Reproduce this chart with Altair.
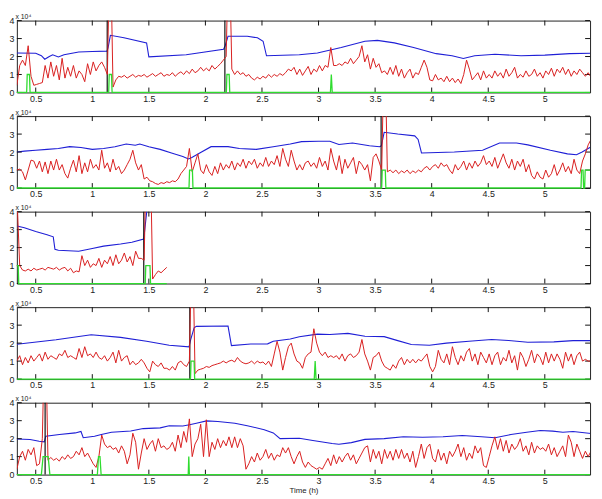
import altair as alt
import pandas as pd

# ---------------- data (values in units of 10^4) ----------------
X0 = 1 / 3          # start of the time axis (h)
X_END = 5.40        # end of the time axis (h)
STEP = 0.025        # sampling interval of the red signal (h)

XTICKS = [0.5, 1, 1.5, 2, 2.5, 3, 3.5, 4, 4.5, 5]
YTICKS = [0, 1, 2, 3, 4]

# ---- panel 1 ----
p1_red = [
    0.4, 1.5, 1.8, 1.5, 2.6, 0.9, 0.4, 0.45, 0.5, 0.55,
    1.5, 0.8, 1.7, 0.9, 1.5, 0.7, 1.9, 0.8, 1.4, 0.9,
    1.5, 0.8, 1.2, 1.0, 0.6, 1.6, 1.0, 1.7, 1.2, 1.5,
    1.7, 1.4, 1.0, 9, 0.3, 0.7, 0.9, 0.85, 0.95, 0.8,
    0.9, 1.0, 0.85, 0.95, 0.9, 1.0, 0.85, 0.95, 1.05, 0.9,
    1.0, 1.1, 0.9, 1.0, 0.95, 1.1, 0.9, 1.05, 1.15, 1.0,
    1.2, 1.05, 1.3, 1.1, 1.2, 1.4, 1.2, 1.35, 1.2, 1.5,
    1.3, 1.45, 1.6, 1.8, 2.0, 9, 1.3, 1.0, 1.2, 1.0,
    1.1, 0.9, 1.0, 0.8, 0.7, 0.85, 0.75, 0.9, 0.8, 1.0,
    0.85, 1.0, 0.9, 1.05, 0.95, 1.1, 1.3, 1.2, 1.4, 1.0,
    1.3, 0.95, 1.2, 1.45, 1.0, 1.3, 1.15, 1.5, 1.2, 1.5,
    1.4, 2.5, 1.5, 1.5, 1.6, 1.5, 1.7, 1.6, 1.9, 1.6,
    1.8, 2.0, 2.6, 1.7, 2.1, 1.3, 1.9, 1.4, 1.6, 1.1,
    1.2, 1.0, 1.4, 1.0, 1.5, 0.9, 1.3, 0.8, 1.1, 1.3,
    0.8, 1.1, 1.0, 1.4, 1.8, 1.4, 0.7, 0.65, 1.0, 0.7,
    0.8, 0.6, 0.9, 0.6, 0.8, 0.55, 0.75, 0.5, 1.0, 1.8,
    1.3, 0.7, 0.9, 1.1, 0.7, 1.2, 0.8, 1.0, 0.8, 1.2,
    0.9, 1.1, 0.8, 1.3, 0.9, 1.1, 1.4, 0.8, 1.0, 0.85,
    1.2, 0.9, 1.0, 1.3, 0.9, 1.1, 0.8, 1.2, 1.0, 1.35,
    0.9, 1.3, 1.1, 1.4, 1.0, 1.3, 0.9, 1.2, 1.0, 1.3,
    1.1, 0.9, 1.1, 0.85,
]
p1_blue_t = [0.3333, 0.5, 0.55, 0.58, 0.62, 0.65, 0.7, 0.75, 0.88, 1.0, 1.13, 1.14, 1.16,
             1.28, 1.48, 1.5, 1.83, 2.16, 2.175, 2.2, 2.37, 2.46, 2.51, 2.54, 2.83, 2.99,
             3.2, 3.41, 3.52, 3.67, 3.84, 4.04, 4.18, 4.28, 4.38, 4.56, 4.79, 5.0, 5.22, 5.41]
p1_blue_v = [2.2, 2.18, 2.05, 1.85, 2.0, 2.1, 1.98, 2.1, 2.25, 2.28, 2.3, 2.5, 3.18,
             3.04, 2.76, 1.98, 2.1, 2.4, 2.6, 3.13, 3.13, 3.04, 2.85, 2.04, 2.1, 2.2,
             2.5, 2.85, 2.9, 2.76, 2.5, 2.16, 2.04, 1.89, 2.04, 2.13, 2.04, 2.08, 2.16, 2.18]
p1_green_t = [0.3333, 0.42, 0.425, 0.445, 0.45, 1.145, 1.15, 1.17, 1.175, 2.185, 2.19, 2.21,
              2.215, 3.105, 3.113, 3.121, 5.40]
p1_green_v = [0, 0, 1, 1, 0, 0, 1, 1, 0, 0, 1, 1, 0, 0, 1, 0, 0]
p1_events = [1.132, 2.172]

# ---- panel 2 ----
p2_red = [
    1.0, 1.05, 0.9, 0.45, 1.0, 1.55, 1.5, 1.1, 1.5, 0.9,
    1.45, 0.8, 1.5, 1.0, 1.6, 1.0, 1.3, 0.8, 0.55, 1.1,
    1.55, 0.9, 1.8, 0.8, 1.4, 0.9, 1.6, 1.1, 1.3, 1.0,
    2.1, 1.1, 1.4, 0.9, 1.6, 1.0, 1.2, 0.8, 1.0, 1.3,
    1.6, 2.1, 1.4, 1.0, 1.3, 0.5, 0.6, 0.4, 0.35, 0.25,
    0.2, 0.3, 0.25, 0.35, 0.3, 0.4, 0.35, 0.5, 0.8, 1.0,
    1.2, 2.2, 0.9, 1.4, 1.9, 1.0, 0.8, 1.3, 0.9, 0.7,
    1.2, 0.8, 1.4, 1.0, 1.3, 1.1, 1.5, 1.0, 1.4, 1.2,
    1.6, 1.1, 1.5, 1.3, 1.6, 1.1, 1.4, 1.2, 1.7, 1.2,
    1.5, 1.3, 1.8, 1.2, 2.2, 1.6, 1.2, 2.1, 1.5, 1.0,
    1.3, 1.0, 1.4, 1.5, 1.2, 1.4, 1.1, 1.7, 1.2, 1.5,
    1.0, 2.2, 1.5, 1.0, 1.8, 0.8, 1.6, 1.1, 1.4, 1.7,
    0.8, 1.5, 1.3, 1.0, 1.3, 0.4, 1.7, 1.9, 1.5, 1.0,
    9, 0.9, 1.0, 0.85, 1.0, 0.8, 0.95, 0.85, 1.0, 0.8,
    0.95, 0.85, 1.0, 0.9, 1.1, 1.2, 1.0, 1.2, 1.3, 1.1,
    1.4, 1.2, 1.3, 1.0, 0.8, 1.3, 1.0, 1.2, 1.5, 1.0,
    1.4, 1.1, 1.5, 1.2, 1.4, 1.8, 1.3, 1.5, 1.2, 1.7,
    1.1, 1.5, 1.9, 1.4, 1.1, 1.6, 1.0, 1.5, 1.2, 1.6,
    0.9, 1.3, 0.7, 0.5, 0.9, 0.6, 0.5, 1.0, 0.6, 0.8,
    1.3, 0.7, 1.0, 1.4, 0.9, 1.2, 0.8, 1.6, 1.0, 0.8,
    1.5, 1.9, 2.4, 2.7,
]
p2_blue_t = [0.3333, 0.4, 0.5, 0.6, 0.7, 0.8, 0.9, 1.0, 1.1, 1.2, 1.3, 1.38, 1.42, 1.5,
             1.6, 1.7, 1.8, 1.85, 1.88, 1.95, 2.05, 2.2, 2.3, 2.45, 2.6, 2.75, 2.85, 3.0,
             3.1, 3.18, 3.3, 3.45, 3.54, 3.555, 3.58, 3.7, 3.85, 3.88, 3.91, 4.2, 4.45,
             4.6, 4.75, 4.85, 5.05, 5.2, 5.28, 5.33, 5.41]
p2_blue_v = [2.0, 2.05, 2.1, 2.15, 2.2, 2.3, 2.25, 2.15, 2.2, 2.3, 2.45, 2.38, 2.45, 2.3,
             2.15, 1.95, 1.75, 1.62, 1.7, 1.95, 2.3, 2.3, 2.2, 2.15, 2.3, 2.45, 2.58, 2.6,
             2.6, 2.42, 2.5, 2.35, 2.3, 2.35, 3.1, 3.0, 2.9, 2.7, 1.95, 2.0, 2.1,
             2.5, 2.5, 2.4, 2.1, 1.9, 1.85, 2.0, 2.3]
p2_green_t = [0.3333, 1.855, 1.86, 1.885, 1.89, 3.558, 3.563, 3.59, 3.595, 5.32, 5.325,
              5.338, 5.343, 5.352, 5.357, 5.40]
p2_green_v = [0, 0, 1, 1, 0, 0, 1, 1, 0, 0, 1, 1, 0, 0, 1, 1]
p2_events = [3.553]

# ---- panel 3 (recording stops at about 1.66 h) ----
p3_red = [
    5, 1.0, 0.75, 0.7, 0.8, 0.7, 0.85, 0.75, 0.8, 0.85,
    0.75, 0.9, 0.85, 0.8, 0.9, 0.75, 0.85, 0.9, 0.7, 0.85,
    0.6, 0.7, 0.65, 1.55, 1.0, 1.3, 0.9, 1.1, 1.0, 1.4,
    0.9, 1.3, 1.1, 1.5, 1.0, 1.6, 1.1, 1.3, 1.7, 1.2,
    1.5, 1.0, 1.8, 1.4, 1.4, 1.3, 9, 9, 0.25, 0.5,
    0.7, 0.6, 0.75, 0.9,
]
p3_blue_t = [0.3333, 0.4, 0.5, 0.6, 0.655, 0.67, 0.7, 0.88, 1.0, 1.1, 1.25, 1.35, 1.455, 1.49]
p3_blue_v = [3.2, 3.1, 2.9, 2.72, 2.6, 1.9, 1.85, 1.8, 1.95, 2.08, 2.2, 2.3, 2.48, 4.5]
p3_green_t = [0.3333, 0.345, 0.35, 1.468, 1.473, 1.51, 1.515, 1.658]
p3_green_v = [1, 1, 0, 0, 1, 1, 0, 0]
p3_events = [1.455]

# ---- panel 4 ----
p4_red = [
    1.0, 1.3, 0.8, 1.2, 0.9, 1.3, 1.0, 1.2, 1.4, 1.0,
    1.5, 1.1, 1.3, 1.2, 1.1, 1.4, 1.3, 1.6, 1.2, 1.3,
    1.2, 1.1, 1.7, 1.2, 1.8, 1.3, 1.4, 1.2, 1.5, 1.2,
    1.1, 1.3, 1.0, 1.2, 1.5, 0.9, 1.6, 1.0, 1.2, 1.3,
    0.8, 1.0, 0.8, 0.9, 1.1, 0.9, 0.6, 0.4, 1.0, 0.8,
    0.7, 0.9, 0.6, 0.6, 0.5, 0.7, 0.5, 0.9, 1.0, 0.8,
    0.7, 1.0, 9, 0.3, 0.5, 0.55, 0.6, 0.7, 0.65, 0.75,
    0.8, 0.85, 0.9, 1.0, 0.9, 1.0, 1.05, 0.95, 1.2, 1.0,
    0.9, 0.85, 0.9, 1.0, 0.85, 1.0, 0.9, 0.95, 0.8, 1.0,
    0.7, 1.4, 2.1, 1.5, 0.5, 1.2, 1.8, 2.0, 1.4, 1.0,
    0.9, 0.6, 1.2, 1.4, 1.5, 2.8, 2.0, 1.5, 1.3, 1.5,
    1.2, 1.3, 1.2, 1.3, 1.1, 1.4, 1.0, 1.3, 1.4, 1.2,
    1.3, 1.5, 2.2, 1.4, 1.0, 0.5, 1.2, 1.3, 1.5, 1.0,
    0.7, 0.6, 0.5, 0.8, 0.6, 1.0, 1.2, 0.8, 1.1, 0.9,
    1.1, 0.9, 1.1, 1.0, 1.2, 1.4, 0.7, 0.4, 0.7, 1.6,
    1.1, 0.9, 1.4, 0.8, 1.8, 1.2, 0.8, 1.3, 1.0, 1.5,
    1.7, 1.0, 1.4, 0.8, 1.5, 1.2, 0.9, 1.4, 0.8, 1.3,
    1.5, 0.8, 1.2, 1.0, 1.6, 0.9, 1.3, 0.5, 1.5, 1.2,
    0.7, 1.1, 1.6, 0.9, 1.4, 1.2, 0.8, 1.5, 0.9, 1.4,
    1.0, 1.4, 1.1, 0.6, 1.5, 1.0, 1.4, 0.8, 1.3, 1.5,
    1.0, 1.1, 1.0, 1.0,
]
p4_blue_t = [0.3333, 0.68, 0.99, 1.25, 1.48, 1.68, 1.855, 1.87, 1.9, 1.92, 2.2, 2.23, 2.4,
             2.55, 2.6, 2.75, 2.83, 2.99, 3.1, 3.26, 3.41, 3.58, 3.7, 3.82, 3.98, 4.13,
             4.33, 4.53, 4.68, 4.85, 5.08, 5.25, 5.41]
p4_blue_v = [1.94, 2.19, 2.47, 2.32, 2.1, 1.88, 1.79, 2.2, 2.85, 2.93, 2.95, 1.86, 1.95,
             1.96, 2.1, 2.23, 2.35, 2.5, 2.48, 2.54, 2.38, 2.36, 2.14, 1.92, 1.88, 2.0,
             2.1, 2.2, 2.15, 2.05, 2.07, 2.14, 2.14]
p4_green_t = [0.3333, 1.868, 1.873, 1.9, 1.905, 2.962, 2.97, 2.978, 5.40]
p4_green_v = [0, 0, 1, 1, 0, 0, 1, 0, 0]
p4_events = [1.862]

# ---- panel 5 ----
p5_red = [
    0.3, 1.0, 1.3, 0.8, 1.4, 1.1, 1.5, 0.5, 0.6, 2.0,
    9, 0.8, 0.95, 0.8, 0.9, 0.75, 1.0, 0.85, 1.1, 0.9,
    1.0, 1.3, 1.1, 1.5, 1.0, 1.2, 0.9, 0.6, 0.4, 1.0,
    2.2, 1.7, 1.5, 1.6, 1.4, 1.5, 1.2, 1.6, 1.3, 0.6,
    1.1, 2.3, 1.8, 0.3, 1.2, 2.0, 1.4, 1.7, 1.9, 1.3,
    2.0, 1.5, 1.6, 1.4, 1.5, 1.8, 1.3, 2.2, 1.5, 2.4,
    1.8, 3.1, 1.0, 1.7, 2.0, 2.8, 1.0, 3.05, 1.0, 1.8,
    1.4, 2.0, 1.5, 1.9, 1.6, 2.1, 1.5, 2.1, 1.5, 2.0,
    1.6, 0.3, 0.6, 1.0, 0.7, 1.2, 0.8, 1.0, 1.4, 0.9,
    1.2, 0.8, 1.1, 1.0, 1.5, 1.2, 1.5, 1.0, 0.6, 1.0,
    1.3, 0.7, 0.4, 0.7, 0.5, 0.4, 0.3, 0.4, 0.3, 0.6,
    0.9, 0.5, 1.1, 0.6, 1.0, 0.7, 1.0, 1.2, 0.8, 1.1,
    0.6, 0.9, 1.2, 1.5, 1.6, 0.7, 1.4, 0.9, 1.3, 0.6,
    1.4, 0.9, 1.3, 0.8, 1.4, 0.9, 1.4, 0.9, 1.2, 0.7,
    1.3, 0.4, 1.0, 1.7, 0.9, 1.5, 1.7, 0.9, 0.7, 1.4,
    0.8, 1.2, 0.6, 1.3, 1.0, 1.3, 1.7, 1.0, 1.5, 0.8,
    1.2, 0.9, 1.6, 1.2, 1.5, 0.5, 0.4, 1.0, 1.6, 2.1,
    1.4, 2.0, 1.3, 1.9, 1.2, 1.7, 1.4, 1.6, 2.0, 1.3,
    1.6, 1.1, 1.8, 1.2, 1.6, 1.4, 1.5, 1.3, 1.7, 1.1,
    1.5, 1.0, 1.3, 1.6, 1.0, 2.2, 1.8, 1.0, 1.7, 1.3,
    0.9, 1.3, 1.0, 1.3,
]
p5_blue_t = [0.3333, 0.45, 0.53, 0.575, 0.59, 0.71, 0.85, 0.9, 0.92, 1.02, 1.08, 1.17, 1.34,
             1.45, 1.6, 1.68, 1.8, 1.86, 1.92, 2.01, 2.11, 2.26, 2.37, 2.52, 2.6, 2.66,
             2.83, 2.95, 3.12, 3.18, 3.29, 3.41, 3.58, 3.75, 3.92, 4.1, 4.27, 4.44, 4.56,
             4.7, 4.84, 4.96, 5.07, 5.16, 5.25, 5.41]
p5_blue_v = [1.98, 1.95, 1.86, 1.82, 2.14, 2.23, 2.32, 2.4, 2.05, 2.13, 2.23, 2.36, 2.43,
             2.56, 2.6, 2.72, 2.7, 2.77, 2.86, 2.99, 2.95, 2.86, 2.72, 2.5, 2.32, 2.0,
             2.02, 1.9, 1.73, 1.69, 1.78, 1.96, 2.0, 2.11, 2.08, 2.11, 2.18, 2.11, 2.05,
             2.23, 2.36, 2.45, 2.42, 2.36, 2.4, 2.29]
p5_green_t = [0.3333, 0.55, 0.565, 0.61, 0.625, 1.045, 1.055, 1.068, 1.078, 1.848, 1.853,
              1.858, 5.40]
p5_green_v = [0, 0, 1, 1, 0, 0, 1, 1, 0, 0, 1, 0, 0]
p5_events = [0.583]

# ---------------- styling ----------------
W, H = 582, 73
BLUE = "#1f1fd6"
RED = "#d81e1e"
GREEN = "#2fdc2f"
DARK = "#111111"
FONT = "Liberation Sans"

xs = alt.Scale(domain=[X0, X_END], nice=False, zero=False)
ys = alt.Scale(domain=[0, 4], nice=False, zero=False)


def panel(red, bt, bv, gt, gv, events, last=False):
    red_df = pd.DataFrame({"t": [X0 + STEP * i for i in range(len(red))], "v": red})
    blue_df = pd.DataFrame({"t": bt, "v": bv})
    green_df = pd.DataFrame({"t": gt, "v": gv})
    ev_df = pd.DataFrame({"t": events})
    xt_df = pd.DataFrame({"t": XTICKS})
    yt_df = pd.DataFrame({"v": YTICKS})

    xaxis_kw = dict(values=XTICKS, format="~g", ticks=False, domain=False, grid=False,
                    labelPadding=2, labelFontSize=9, labelColor="#222",
                    labelOverlap=False, labelFlush=False)
    if last:
        xaxis_kw.update(title="Time (h)", titleFontSize=8, titleFontWeight="normal",
                        titlePadding=1, titleColor="#222")
    else:
        xaxis_kw.update(title="")
    xaxis = alt.Axis(**xaxis_kw)
    yaxis = alt.Axis(values=YTICKS, format="d", ticks=False, domain=False, grid=False,
                     labelPadding=3, labelFontSize=9, labelColor="#222",
                     labelOverlap=False, labelFlush=False, labelBound=False,
                     title="x 10⁴", titleAngle=0, titleAlign="left", titleBaseline="bottom",
                     titleX=-2, titleY=-1, titleFontSize=7, titleFontWeight="normal",
                     titleColor="#222")

    def X():
        return alt.X("t:Q", scale=xs, axis=xaxis)

    def Y():
        return alt.Y("v:Q", scale=ys, axis=yaxis)

    blue = alt.Chart(blue_df).mark_line(color=BLUE, strokeWidth=1.1, clip=True).encode(
        x=X(), y=Y())
    xticks_bot = alt.Chart(xt_df).mark_rule(color=DARK, strokeWidth=1).encode(
        x=X(), y=alt.value(H), y2=alt.value(H - 5))
    xticks_top = alt.Chart(xt_df).mark_rule(color=DARK, strokeWidth=1).encode(
        x=X(), y=alt.value(0), y2=alt.value(5))
    yticks_l = alt.Chart(yt_df).mark_rule(color=DARK, strokeWidth=1).encode(
        y=Y(), x=alt.value(0), x2=alt.value(5))
    yticks_r = alt.Chart(yt_df).mark_rule(color=DARK, strokeWidth=1).encode(
        y=Y(), x=alt.value(W - 5), x2=alt.value(W))
    redl = alt.Chart(red_df).mark_line(color=RED, strokeWidth=1, clip=True).encode(
        x=X(), y=Y())
    ev = alt.Chart(ev_df).mark_rule(color=DARK, strokeWidth=1.2).encode(
        x=X(), y=alt.value(0), y2=alt.value(H))
    green = alt.Chart(green_df).mark_line(color=GREEN, strokeWidth=1.3).encode(
        x=X(), y=Y())

    return alt.layer(blue, xticks_bot, xticks_top, yticks_l, yticks_r, ev, redl, green).properties(
        width=W, height=H)


panels = [
    panel(p1_red, p1_blue_t, p1_blue_v, p1_green_t, p1_green_v, p1_events),
    panel(p2_red, p2_blue_t, p2_blue_v, p2_green_t, p2_green_v, p2_events),
    panel(p3_red, p3_blue_t, p3_blue_v, p3_green_t, p3_green_v, p3_events),
    panel(p4_red, p4_blue_t, p4_blue_v, p4_green_t, p4_green_v, p4_events),
    panel(p5_red, p5_blue_t, p5_blue_v, p5_green_t, p5_green_v, p5_events, last=True),
]

chart = alt.vconcat(*panels, spacing=3).properties(
    padding=0
).configure(font=FONT).configure_axis(labelOverlap=False).configure_view(
    stroke="#222", strokeWidth=1)

chart.save("out.html", embed_options={"renderer": "svg", "actions": False})
